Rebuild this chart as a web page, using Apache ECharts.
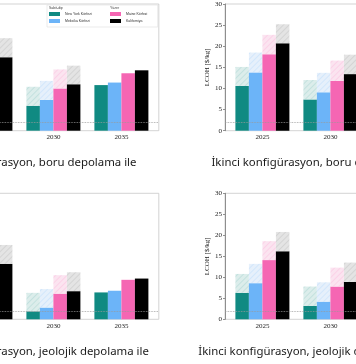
<!DOCTYPE html>
<html><head><meta charset="utf-8">
<script src="https://cdn.jsdelivr.net/npm/echarts@6/dist/echarts.min.js"></script>
<style>html,body{margin:0;padding:0;background:#fff;overflow:hidden;width:356px;height:364px}
#wrap{position:relative;width:356px;height:364px;overflow:hidden}
#c{position:absolute;left:-60px;top:0;width:500px;height:364px}</style>
</head><body><div id="wrap"><div id="c"></div></div>
<script>
// ---------- data ----------
const years = ['2025', '2030', '2035'];
const regionNames = ['New York Körfezi', 'Meksika Körfezi', 'Maine Körfezi', 'Kaliforniya'];
const groupTitles = ['Sabit-dip', 'Yüzer'];
const yTickMax = 30;
const yTickStep = 5;
const refLine = 2;
const captions = [
  'Birinci konfigürasyon, boru depolama ile',
  'İkinci konfigürasyon, boru depolama ile',
  'Birinci konfigürasyon, jeolojik depolama ile',
  'İkinci konfigürasyon, jeolojik depolama ile'
];
// rows: New York, Meksika, Maine, Kaliforniya ; columns: 2025, 2030, 2035
const boru1Low  = [[10.2, 5.9, 10.8], [12.5, 7.3, 11.4], [15.0, 10.0, 13.6], [17.4, 11.0, 14.3]];
const boru1High = [[14.7, 10.4, 10.8], [17.0, 11.8, 11.4], [19.5, 14.5, 13.6], [21.9, 15.4, 14.3]];
const boru2Low  = [[10.6, 7.4, 6.8], [13.8, 9.1, 7.4], [18.1, 11.8, 9.8], [20.7, 13.4, 10.9]];
const boru2High = [[15.1, 12.0, 6.8], [18.5, 13.7, 7.4], [22.7, 16.6, 9.8], [25.2, 18.0, 10.9]];
const jeo1Low   = [[5.5, 1.9, 6.4], [7.5, 2.8, 6.8], [10.5, 6.1, 9.4], [13.2, 6.7, 9.7]];
const jeo1High  = [[10.0, 6.3, 6.4], [12.0, 7.2, 6.8], [15.0, 10.5, 9.4], [17.7, 11.2, 9.7]];
const jeo2Low   = [[6.3, 3.2, 2.6], [8.6, 4.2, 3.0], [14.1, 7.8, 5.3], [16.2, 8.9, 6.2]];
const jeo2High  = [[10.8, 7.8, 2.6], [13.2, 8.8, 3.0], [18.6, 12.3, 5.3], [20.8, 13.5, 6.2]];

// ---------- styles / layout ----------
const OX = 60; // the drawing surface is shifted left by this many pixels
const solidColors = ['#108a82', '#6cb4f8', '#f566b3', '#000000'];
const lightColors = ['#dcedeb', '#e6f0fb', '#fbe4f0', '#e4e4e4'];
const hatchColors = ['rgba(16,138,130,0.12)', 'rgba(108,180,248,0.16)', 'rgba(245,102,179,0.14)', 'rgba(0,0,0,0.07)'];
const band = 68;
const frameW = band * 3.1;
const panels = [
  { low: boru1Low, high: boru1High, fl: -52, top: 4, h: 126.7 },
  { low: boru2Low, high: boru2High, fl: 225, top: 4, h: 126.7 },
  { low: jeo1Low, high: jeo1High, fl: -52, top: 193.3, h: 126 },
  { low: jeo2Low, high: jeo2High, fl: 225, top: 193.3, h: 126 }
];
const serif = 'Liberation Serif';
const capFont = 'Noto Sans';
const capSize = 11.4;

const grid = [], xAxis = [], yAxis = [], series = [];
panels.forEach((p, i) => {
  const fi = 2 * i, bi = 2 * i + 1;
  grid.push({ left: p.fl + OX, top: p.top, width: frameW, height: p.h, show: true,
    borderColor: '#c8c8c8', borderWidth: 0.8, backgroundColor: 'transparent' });
  grid.push({ left: p.fl + OX + band * 0.05, top: p.top, width: band * 3, height: p.h });
  xAxis.push({ type: 'value', gridIndex: fi, min: 0, max: 1, show: false });
  xAxis.push({ type: 'category', gridIndex: bi, data: years, boundaryGap: true,
    axisLine: { show: false }, axisTick: { show: false },
    axisLabel: { fontFamily: serif, fontSize: 7, color: '#222', margin: 3 } });
  yAxis.push({ type: 'value', gridIndex: fi, min: 0, max: yTickMax, interval: yTickStep,
    axisLine: { show: true, onZero: false, lineStyle: { color: '#777', width: 0.8 } },
    axisTick: { show: true, length: 2, lineStyle: { color: '#777', width: 0.8 } },
    splitLine: { show: false },
    axisLabel: { fontFamily: serif, fontSize: 7, color: '#222', margin: 3 },
    name: 'LCOH [$/kg]', nameLocation: 'middle', nameGap: 14, nameRotate: 90,
    nameTextStyle: { fontFamily: serif, fontSize: 7, color: '#222' } });
  yAxis.push({ type: 'value', gridIndex: bi, min: 0, max: yTickMax, show: false });
  series.push({ type: 'line', xAxisIndex: fi, yAxisIndex: fi, data: [], silent: true,
    markLine: { silent: true, symbol: 'none', label: { show: false },
      lineStyle: { type: 'dotted', color: '#999', width: 0.8 }, data: [{ yAxis: refLine }] } });
  for (let c = 0; c < 4; c++) {
    const stack = 'p' + i + 'c' + c;
    series.push({ type: 'bar', name: regionNames[c], xAxisIndex: bi, yAxisIndex: bi, stack,
      barWidth: 13.5, barGap: '0%', data: p.low[c], itemStyle: { color: solidColors[c] } });
    series.push({ type: 'bar', name: regionNames[c] + ' aralık', xAxisIndex: bi, yAxisIndex: bi, stack,
      barWidth: 13.5, barGap: '0%',
      data: p.high[c].map((v, k) => +(v - p.low[c][k]).toFixed(2)),
      itemStyle: { color: lightColors[c], decal: { symbol: 'rect', symbolSize: 1,
        dashArrayX: [1, 0], dashArrayY: [1, 3], rotation: -Math.PI / 4, color: hatchColors[c] } } });
  }
});

// caption placement
const mctx = document.createElement('canvas').getContext('2d');
mctx.font = capSize + 'px "' + capFont + '"';
const prefW = mctx.measureText('Birinci konfigür').width;
const capStyle = { fontFamily: capFont, fontSize: capSize, fontWeight: 'normal', color: '#1a1a1a' };
const smallTitle = { fontSize: 3.5, color: '#444', fontWeight: 'normal' };
const titles = [
  { text: captions[0], left: OX + 1.5 - prefW, top: 157, padding: 0, textStyle: capStyle },
  { text: captions[1], left: OX + 211.5, top: 157, padding: 0, textStyle: capStyle },
  { text: captions[2], left: OX + 1.5 - prefW, top: 346.5, padding: 0, textStyle: capStyle },
  { text: captions[3], left: OX + 198.3, top: 346.5, padding: 0, textStyle: capStyle },
  { text: groupTitles[0], left: OX + 49, top: 6, padding: 0, textStyle: smallTitle },
  { text: groupTitles[1], left: OX + 110, top: 6, padding: 0, textStyle: smallTitle }
];

const legendText = { fontSize: 3.5, color: '#333', lineHeight: 4, width: 26 };
const option = {
  animation: false,
  title: titles,
  legend: [
    { data: [regionNames[0], regionNames[1]], orient: 'vertical', left: OX + 47, top: 5,
      padding: [7, 66, 4, 2], itemGap: 3, itemWidth: 11, itemHeight: 4, icon: 'rect',
      borderColor: '#ddd', borderWidth: 0.6, selectedMode: false, textStyle: legendText },
    { data: [regionNames[2], regionNames[3]], orient: 'vertical', left: OX + 110, top: 5,
      padding: [7, 2, 4, 0], itemGap: 3, itemWidth: 11, itemHeight: 4, icon: 'rect',
      selectedMode: false, textStyle: legendText }
  ],
  grid, xAxis, yAxis, series
};
echarts.init(document.getElementById('c'), null, { renderer: 'canvas' }).setOption(option);
</script></body></html>
